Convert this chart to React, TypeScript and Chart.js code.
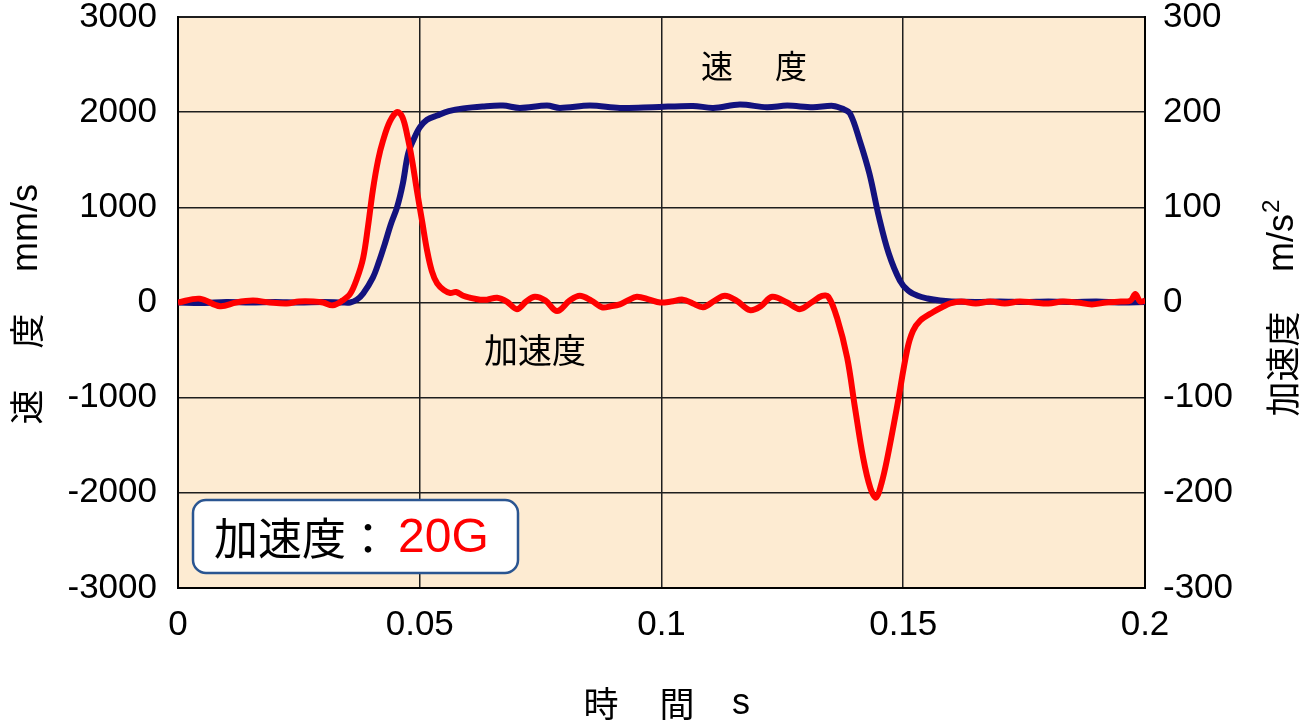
import { useEffect, useRef } from 'react';
import { Chart, registerables } from 'chart.js';

Chart.register(...registerables);

// 時間 s (velocity samples)
const velTime = [
  0, 0.005, 0.01, 0.015, 0.02, 0.025, 0.03, 0.034, 0.0356, 0.037, 0.0383, 0.0403,
  0.0415, 0.0428, 0.044, 0.0453, 0.0465, 0.0476, 0.0488, 0.05, 0.0515, 0.0536,
  0.056, 0.059, 0.063, 0.0672, 0.0707, 0.0763, 0.079, 0.0852, 0.0914, 0.0982,
  0.1065, 0.1107, 0.1162, 0.1218, 0.126, 0.1313, 0.1355, 0.1375, 0.139, 0.141,
  0.143, 0.145, 0.147, 0.1493, 0.151, 0.153, 0.155, 0.1576, 0.16, 0.165, 0.17,
  0.175, 0.18, 0.185, 0.19, 0.195, 0.2,
];
// 速度 mm/s
const velValues = [
  0, -5, 5, 0, 5, 0, 5, 0, 0, 30, 95, 262,
  420, 620, 820, 1000, 1250, 1565, 1720, 1840, 1920, 1965,
  2010, 2040, 2060, 2069, 2045, 2069, 2045, 2069, 2045, 2052,
  2066, 2045, 2080, 2052, 2069, 2052, 2066, 2035, 1985, 1700,
  1355, 893, 515, 231, 126, 70, 42, 20, 10, 5, 10,
  5, 10, 5, 10, 0, 5,
];

// 時間 s (acceleration samples)
const accTime = [
  0, 0.0045, 0.0087, 0.012, 0.0155, 0.019, 0.0225, 0.025, 0.028, 0.03, 0.032, 0.034,
  0.0356, 0.037, 0.0383, 0.0393, 0.0403, 0.0414, 0.0424, 0.0438, 0.0453, 0.0464,
  0.0474, 0.0484, 0.0494, 0.0505, 0.0515, 0.0525, 0.0536, 0.055, 0.0563, 0.0575,
  0.059, 0.0604, 0.0625, 0.0639, 0.066, 0.068, 0.0701, 0.072, 0.0738, 0.076,
  0.0784, 0.081, 0.0831, 0.0855, 0.0877, 0.0895, 0.0914, 0.093, 0.0949, 0.0975,
  0.0997, 0.102, 0.1044, 0.1065, 0.1086, 0.111, 0.1131, 0.1155, 0.1183, 0.1205,
  0.1229, 0.126, 0.1286, 0.131, 0.1332, 0.1345, 0.1363, 0.1384, 0.14, 0.1417,
  0.1432, 0.1444, 0.1455, 0.1466, 0.1487, 0.1508, 0.152, 0.1535, 0.1562, 0.158,
  0.1597, 0.162, 0.165, 0.168, 0.171, 0.174, 0.177, 0.18, 0.183, 0.186, 0.189,
  0.192, 0.195, 0.197, 0.198, 0.199, 0.2,
];
// 加速度 m/s²
const accValues = [
  0, 4, -4, 0, 2, 0, -1, 1, 1, 0, -3, 2,
  9, 25, 47, 80, 118, 150, 170, 190, 200, 195,
  176, 150, 118, 85, 55, 33, 20, 13, 10, 11,
  7, 5, 3, 3, 5, 1, -7, 1, 6, 2,
  -9, 2, 7, 2, -5, -4, -2, 2, 6, 3,
  0, 1, 3, -1, -5, 2, 7, 2, -8, -4,
  6, 0, -7, 0, 7, 6, -16, -58, -110, -163,
  -195, -205, -190, -166, -110, -50, -30, -19, -10, -5,
  -1, 1, -1, 1, -1, 1, 0, -1, 1, 0, -2,
  0, 1, 2, 9, 1, 2,
];

const xTickValues = [0, 0.05, 0.1, 0.15, 0.2];
const xTickLabels = ['0', '0.05', '0.1', '0.15', '0.2'];
const velTickValues = [-3000, -2000, -1000, 0, 1000, 2000, 3000];
const accTickValues = [-300, -200, -100, 0, 100, 200, 300];

const CJK = '"Noto Sans CJK JP", sans-serif';
const LAT = '"Liberation Sans", Arial, sans-serif';
const TICK_SIZE = 35;

const bgPlugin = {
  id: 'plotBg',
  beforeDraw(chart: any) {
    const { ctx, chartArea } = chart;
    ctx.save();
    ctx.fillStyle = '#FDEBD2';
    ctx.fillRect(chartArea.left, chartArea.top, chartArea.right - chartArea.left, chartArea.bottom - chartArea.top);
    ctx.restore();
  },
};

const textPlugin = {
  id: 'texts',
  afterDraw(chart: any) {
    const ctx: CanvasRenderingContext2D = chart.ctx;
    ctx.save();
    ctx.fillStyle = '#000';
    ctx.textBaseline = 'middle';
    ctx.textAlign = 'center';

    // x title
    ctx.font = `35px ${CJK}`;
    ctx.fillText('時', 601, 704);
    ctx.fillText('間', 677, 704);
    ctx.font = `36px ${LAT}`;
    ctx.fillText('s', 741, 704);

    // left title (rotated)
    ctx.save();
    ctx.translate(27, 0);
    ctx.rotate(-Math.PI / 2);
    ctx.font = `35px ${CJK}`;
    ctx.textAlign = 'center';
    ctx.fillText('速', -407, 0);
    ctx.fillText('度', -331, 0);
    ctx.font = `36px ${LAT}`;
    ctx.textAlign = 'left';
    ctx.fillText('mm/s', -272, 0);
    ctx.restore();

    // right title (rotated)
    ctx.save();
    ctx.translate(1283, 0);
    ctx.rotate(-Math.PI / 2);
    ctx.font = `35px ${CJK}`;
    ctx.textAlign = 'center';
    ctx.fillText('加速度', -364, 0);
    ctx.font = `36px ${LAT}`;
    ctx.textAlign = 'left';
    ctx.fillText('m/s', -272, 0);
    const w = ctx.measureText('m/s').width;
    ctx.font = `24px ${LAT}`;
    ctx.fillText('2', -272 + w + 1, -11);
    ctx.restore();

    // series annotations
    ctx.font = `32px ${CJK}`;
    ctx.textAlign = 'center';
    ctx.fillText('速', 717, 66);
    ctx.fillText('度', 791, 66);
    ctx.font = `34px ${CJK}`;
    ctx.fillText('加速度', 535, 350);

    // label box
    ctx.beginPath();
    (ctx as any).roundRect(193, 500, 325, 73, 13);
    ctx.fillStyle = '#ffffff';
    ctx.fill();
    ctx.lineWidth = 2.5;
    ctx.strokeStyle = '#2a5591';
    ctx.stroke();
    ctx.textAlign = 'left';
    ctx.fillStyle = '#000';
    ctx.font = `44px ${CJK}`;
    ctx.fillText('加速度：', 214, 538);
    ctx.fillStyle = '#ff0000';
    ctx.font = `48px ${LAT}`;
    ctx.fillText('20G', 398, 539);
    ctx.restore();
  },
};

export default function App() {
  const ref = useRef<HTMLCanvasElement | null>(null);

  useEffect(() => {
    if (!ref.current) return;
    const velData = velTime.map((t, i) => ({ x: t, y: velValues[i] }));
    const accData = accTime.map((t, i) => ({ x: t, y: accValues[i] }));
    const chart = new Chart(ref.current, {
      type: 'line',
      data: {
        datasets: [
          {
            label: '加速度',
            data: accData,
            yAxisID: 'y1',
            borderColor: '#ff0000',
            borderWidth: 6,
            pointRadius: 0,
            tension: 0.35,
            fill: false,
            order: 0,
          },
          {
            label: '速度',
            data: velData,
            yAxisID: 'y',
            borderColor: '#13127e',
            borderWidth: 6,
            pointRadius: 0,
            tension: 0.35,
            fill: false,
            order: 1,
          },
        ],
      },
      options: {
        animation: false,
        responsive: false,
        maintainAspectRatio: false,
        layout: { padding: { top: 17, left: 0, right: 0, bottom: 0 } },
        plugins: { legend: { display: false }, tooltip: { enabled: false } },
        scales: {
          x: {
            type: 'linear',
            min: 0,
            max: 0.2,
            afterBuildTicks: (s: any) => {
              s.ticks = xTickValues.map((v) => ({ value: v }));
            },
            afterFit: (s: any) => {
              s.height = 138;
              s.paddingLeft = 0;
              s.paddingRight = 0;
            },
            ticks: {
              color: '#000',
              font: { family: LAT, size: TICK_SIZE, lineHeight: 1 },
              padding: 20,
              maxRotation: 0,
              callback: (v: any) => {
                const i = xTickValues.findIndex((x) => Math.abs(x - v) < 1e-9);
                return i >= 0 ? xTickLabels[i] : '';
              },
            },
            grid: { color: '#1e1e1e', lineWidth: 1.5, drawTicks: false },
            border: { display: true, color: '#000', width: 2 },
          },
          y: {
            type: 'linear',
            position: 'left',
            min: -3000,
            max: 3000,
            afterBuildTicks: (s: any) => {
              s.ticks = velTickValues.map((v) => ({ value: v }));
            },
            afterFit: (s: any) => {
              s.width = 178;
              s.paddingTop = 0;
              s.paddingBottom = 0;
            },
            ticks: {
              color: '#000',
              font: { family: LAT, size: TICK_SIZE, lineHeight: 1 },
              padding: 21,
              callback: (v: any) => String(v),
            },
            grid: {
              color: '#1e1e1e',
              lineWidth: (c: any) => (c.tick && (c.tick.value === 3000 || c.tick.value === -3000) ? 2 : 1.5),
              drawTicks: false,
            },
            border: { display: true, color: '#000', width: 2 },
          },
          y1: {
            type: 'linear',
            position: 'right',
            min: -300,
            max: 300,
            afterBuildTicks: (s: any) => {
              s.ticks = accTickValues.map((v) => ({ value: v }));
            },
            afterFit: (s: any) => {
              s.width = 160;
              s.paddingTop = 0;
              s.paddingBottom = 0;
            },
            ticks: {
              color: '#000',
              font: { family: LAT, size: TICK_SIZE, lineHeight: 1 },
              padding: 18,
              callback: (v: any) => String(v),
            },
            grid: { display: false, drawTicks: false },
            border: { display: true, color: '#000', width: 2 },
          },
        },
      },
      plugins: [bgPlugin, textPlugin],
    });
    return () => chart.destroy();
  }, []);

  return (
    <div style={{ position: 'fixed', left: 0, top: 0, width: 1305, height: 726, background: '#fff' }}>
      <canvas ref={ref} width={1305} height={726} style={{ display: 'block' }} />
    </div>
  );
}
